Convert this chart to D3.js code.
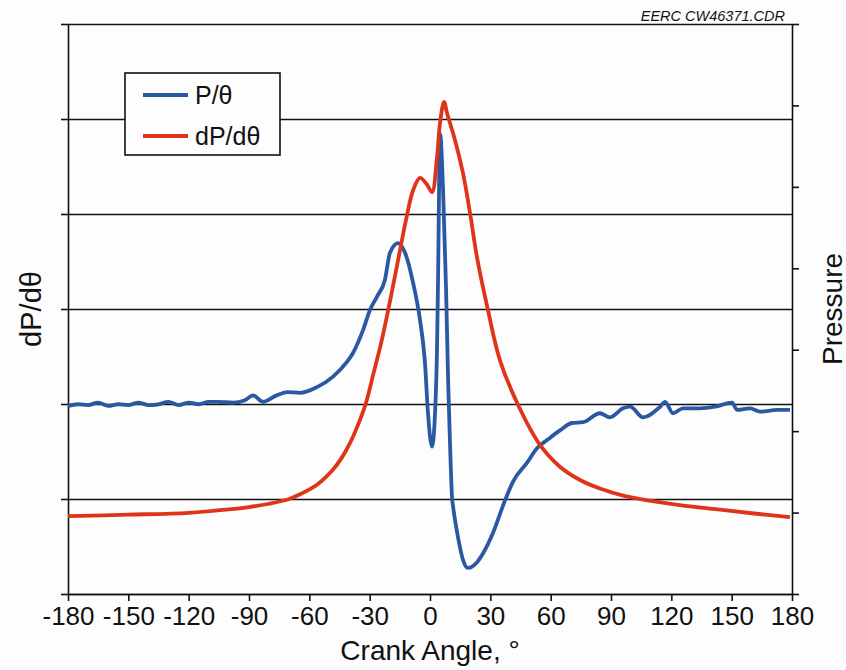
<!DOCTYPE html>
<html>
<head>
<meta charset="utf-8">
<script src="https://cdn.jsdelivr.net/npm/d3@7"></script>
<style>
  body { margin: 0; background: #fdfdfd; overflow: hidden; }
  svg { display: block; }
  text { font-family: "Liberation Sans", Arial, sans-serif; fill: #111; }
</style>
</head>
<body>
<svg id="mysvg"></svg>
<script>
// tick labels
const xTicks = [-180, -150, -120, -90, -60, -30, 0, 30, 60, 90, 120, 150, 180];
const leftTicks = [0, 1, 2, 3, 4, 5, 6];
const rightTicks = [0, 1, 2, 3, 4, 5, 6, 7];

// dP/dθ (red), left axis units, [crank angle, value]
const dPdTheta = [
  [-180, 0.82], [-150, 0.835], [-120, 0.855], [-100, 0.89], [-90, 0.915], [-80, 0.95],
  [-70, 1.0], [-64.6, 1.05], [-56.2, 1.15], [-48.2, 1.31], [-44, 1.43], [-40, 1.58], [-36, 1.77],
  [-32, 2.0], [-28, 2.33], [-24, 2.67], [-20, 3.07], [-16, 3.5], [-12, 3.93],
  [-8.4, 4.25], [-5.0, 4.38], [-1.5, 4.31], [1.0, 4.23], [3.5, 4.6], [5.0, 4.96], [7.0, 5.18],
  [8.5, 5.06], [12.4, 4.78], [16.4, 4.43], [19.9, 4.01], [23.4, 3.54], [28.8, 2.99], [34.8, 2.46],
  [43.8, 1.99], [54.7, 1.57], [64.6, 1.34], [74.6, 1.2], [84.5, 1.11], [97, 1.03], [110, 0.98],
  [126, 0.93], [143, 0.89], [160, 0.85], [179, 0.81]
];

// P/θ (blue), right axis units, [crank angle, value]
const pTheta = [
  [-180, 2.31], [-175, 2.33], [-170, 2.32], [-165, 2.35], [-160, 2.31], [-155, 2.33], [-150, 2.32],
  [-145, 2.35], [-140, 2.32], [-135, 2.33], [-130, 2.36], [-125, 2.32], [-120, 2.35], [-115, 2.33],
  [-110, 2.36], [-106, 2.36], [-98, 2.35], [-92, 2.38], [-88, 2.44], [-83, 2.36], [-77, 2.43],
  [-71, 2.48], [-64.6, 2.47], [-56.2, 2.54], [-48.2, 2.67], [-41.3, 2.85], [-38.3, 2.96],
  [-33.3, 3.24], [-29.8, 3.49], [-26.4, 3.65], [-22.4, 3.86], [-19.9, 4.19], [-15.9, 4.31],
  [-12.4, 4.19], [-8.4, 3.82], [-5, 3.37], [-2.5, 2.84], [-1, 2.22], [1, 1.81], [2.5, 2.22],
  [3.5, 3.03], [4, 3.86], [5, 5.65], [6.5, 4.96], [8, 3.73], [9, 2.63], [10, 1.81], [11, 1.17],
  [11.5, 1.07], [13.9, 0.7], [16.4, 0.42], [18.9, 0.32], [23.4, 0.39], [26.4, 0.5], [31.3, 0.75],
  [37.3, 1.15], [41.3, 1.38], [48.2, 1.61], [53.2, 1.79], [58.2, 1.89], [64.6, 2.01], [70.6, 2.1],
  [76.1, 2.11], [84.5, 2.22], [89.5, 2.17], [96, 2.28], [99.5, 2.3], [105.9, 2.17], [114.4, 2.3],
  [116.9, 2.36], [120.8, 2.22], [125.8, 2.28], [134.3, 2.28], [141.7, 2.3], [150.2, 2.35],
  [152.7, 2.26], [159.1, 2.28], [164.1, 2.24], [172.6, 2.26], [179, 2.26]
];

const width = 846, height = 670;
const margin = { top: 24, right: 54, bottom: 76, left: 68 };
const innerWidth = width - margin.left - margin.right;
const innerHeight = height - margin.top - margin.bottom;

const blue = "#2b58a2", red = "#df3419";

const root = d3.select("#mysvg").attr("width", width).attr("height", height);
const svg = root.append("g").attr("transform", `translate(${margin.left},${margin.top})`);

const x = d3.scaleLinear().domain([-180, 180]).range([0, innerWidth]);
const yL = d3.scaleLinear().domain([0, 6]).range([innerHeight, 0]);
const yR = d3.scaleLinear().domain([0, 7]).range([innerHeight, 0]);

// gridlines
svg.append("g").attr("class", "grid")
  .call(d3.axisLeft(yL).tickValues(leftTicks).tickSize(-innerWidth).tickFormat(""))
  .call(g => g.select(".domain").remove())
  .call(g => g.selectAll("text").remove())
  .selectAll("line").attr("stroke", "#111").attr("stroke-width", 1.6);

// axes
svg.append("g").attr("class", "y axis")
  .call(d3.axisLeft(yL).tickValues(leftTicks).tickSize(7).tickSizeOuter(0).tickFormat(""))
  .call(g => g.selectAll("text").remove())
  .call(g => g.selectAll("path,line").attr("stroke", "#111").attr("stroke-width", 1.6));

svg.append("g").attr("class", "y2 axis").attr("transform", `translate(${innerWidth},0)`)
  .call(d3.axisRight(yR).tickValues(rightTicks).tickSize(7).tickSizeOuter(0).tickFormat(""))
  .call(g => g.selectAll("text").remove())
  .call(g => g.selectAll("path,line").attr("stroke", "#111").attr("stroke-width", 1.6));

svg.append("g").attr("class", "x axis").attr("transform", `translate(0,${innerHeight})`)
  .call(d3.axisBottom(x).tickValues(xTicks).tickSize(7).tickSizeOuter(0).tickPadding(6)
    .tickFormat(d => String(d)))
  .call(g => g.selectAll("path,line").attr("stroke", "#111").attr("stroke-width", 1.6))
  .selectAll("text").style("font-size", "26px").attr("fill", "#111");

// curves
const lineL = d3.line().x(d => x(d[0])).y(d => yL(d[1])).curve(d3.curveCatmullRom.alpha(0.5));
const lineR = d3.line().x(d => x(d[0])).y(d => yR(d[1])).curve(d3.curveMonotoneX);

svg.append("path").datum(pTheta).attr("d", lineR)
  .attr("fill", "none").attr("stroke", blue).attr("stroke-width", 3.8).attr("stroke-linejoin", "round");
svg.append("path").datum(dPdTheta).attr("d", lineL)
  .attr("fill", "none").attr("stroke", red).attr("stroke-width", 3.8).attr("stroke-linejoin", "round");

// legend
const legend = svg.append("g").attr("transform", `translate(${125 - margin.left},${73 - margin.top})`);
legend.append("rect").attr("width", 155).attr("height", 82)
  .attr("fill", "#fdfdfd").attr("stroke", "#111").attr("stroke-width", 1.6);
const items = [{ name: "P/θ", color: blue }, { name: "dP/dθ", color: red }];
const li = legend.selectAll(".item").data(items).join("g").attr("class", "item")
  .attr("transform", (_, i) => `translate(0,${22 + i * 41})`);
li.append("line").attr("x1", 18).attr("x2", 63).attr("stroke", d => d.color).attr("stroke-width", 4);
li.append("text").attr("x", 70).attr("y", 9).style("font-size", "25px").text(d => d.name);

// labels
root.append("text").attr("x", 785).attr("y", 21).attr("text-anchor", "end")
  .style("font-size", "14.5px").style("font-style", "italic").text("EERC CW46371.CDR");

root.append("text").attr("x", margin.left + innerWidth / 2).attr("y", 660).attr("text-anchor", "middle")
  .style("font-size", "28px").text("Crank Angle, °");

root.append("text").attr("transform", `translate(41,${margin.top + innerHeight / 2}) rotate(-90)`)
  .attr("text-anchor", "middle").style("font-size", "29px").text("dP/dθ");

root.append("text").attr("transform", `translate(842,${margin.top + innerHeight / 2}) rotate(-90)`)
  .attr("text-anchor", "middle").style("font-size", "28px").text("Pressure");
</script>
</body>
</html>
